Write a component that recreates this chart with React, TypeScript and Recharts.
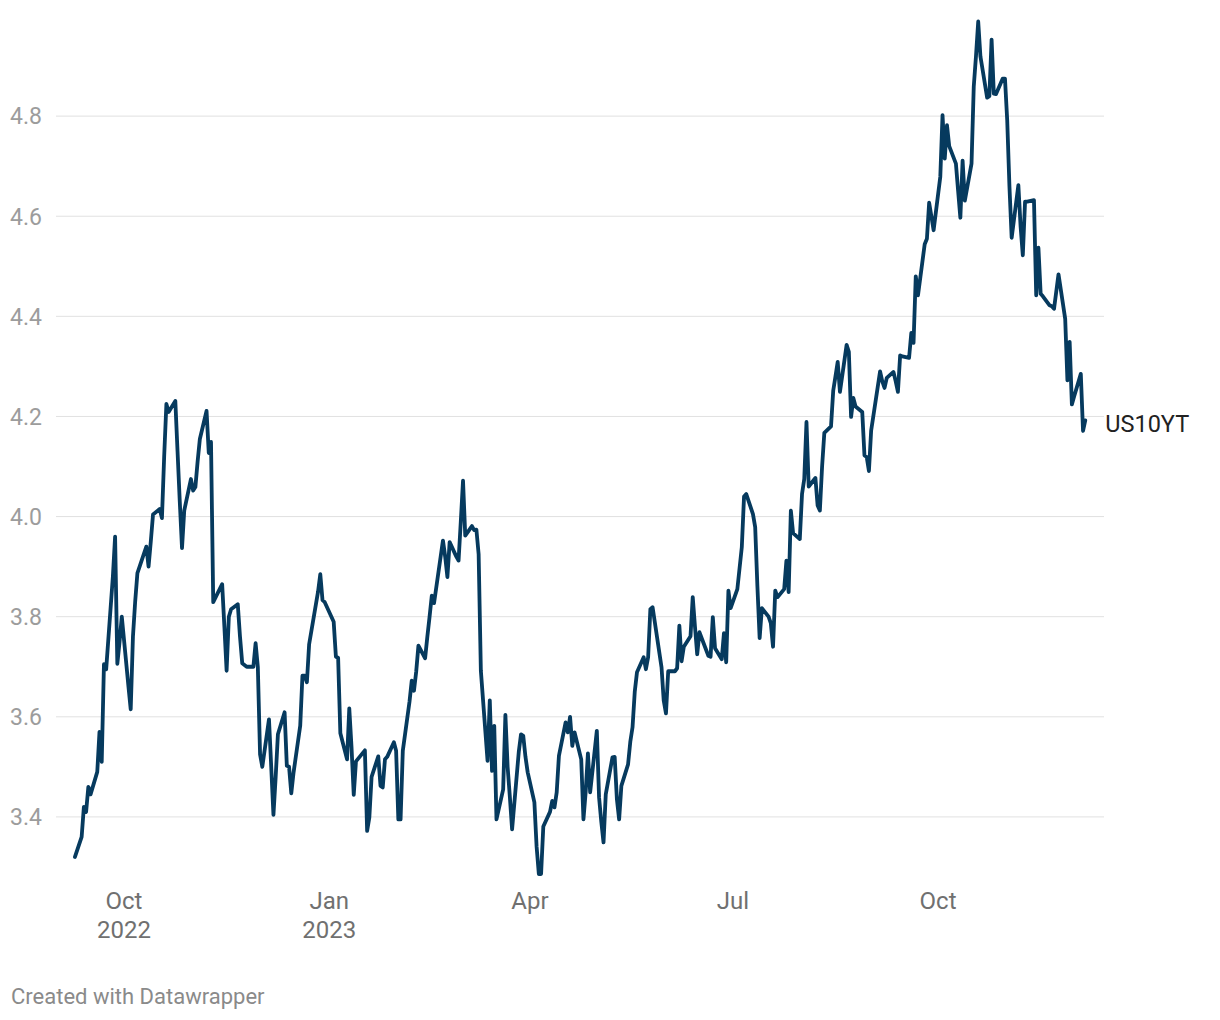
import React from "react";
import { LineChart, Line, XAxis, YAxis, ReferenceLine } from "recharts";

const DATES: string[] = [
  "2022-09-09","2022-09-12","2022-09-13","2022-09-14","2022-09-15","2022-09-16","2022-09-19","2022-09-20","2022-09-21","2022-09-22","2022-09-23","2022-09-26","2022-09-27","2022-09-28","2022-09-29","2022-09-30",
  "2022-10-03","2022-10-04","2022-10-05","2022-10-06","2022-10-07","2022-10-11","2022-10-12","2022-10-13","2022-10-14","2022-10-17","2022-10-18","2022-10-19","2022-10-20","2022-10-21","2022-10-24","2022-10-25","2022-10-26","2022-10-27","2022-10-28","2022-10-31",
  "2022-11-01","2022-11-02","2022-11-03","2022-11-04","2022-11-07","2022-11-08","2022-11-09","2022-11-10","2022-11-14","2022-11-15","2022-11-16","2022-11-17","2022-11-18","2022-11-21","2022-11-22","2022-11-23","2022-11-25","2022-11-28","2022-11-29","2022-11-30",
  "2022-12-01","2022-12-02","2022-12-05","2022-12-06","2022-12-07","2022-12-08","2022-12-09","2022-12-12","2022-12-13","2022-12-14","2022-12-15","2022-12-16","2022-12-19","2022-12-20","2022-12-21","2022-12-22","2022-12-23","2022-12-27","2022-12-28","2022-12-29","2022-12-30",
  "2023-01-03","2023-01-04","2023-01-05","2023-01-06","2023-01-09","2023-01-10","2023-01-11","2023-01-12","2023-01-13","2023-01-17","2023-01-18","2023-01-19","2023-01-20","2023-01-23","2023-01-24","2023-01-25","2023-01-26","2023-01-27","2023-01-30","2023-01-31",
  "2023-02-01","2023-02-02","2023-02-03","2023-02-06","2023-02-07","2023-02-08","2023-02-09","2023-02-10","2023-02-13","2023-02-14","2023-02-15","2023-02-16","2023-02-17","2023-02-21","2023-02-22","2023-02-23","2023-02-24","2023-02-27","2023-02-28",
  "2023-03-01","2023-03-02","2023-03-03","2023-03-06","2023-03-07","2023-03-08","2023-03-09","2023-03-10","2023-03-13","2023-03-14","2023-03-15","2023-03-16","2023-03-17","2023-03-20","2023-03-21","2023-03-22","2023-03-23","2023-03-24","2023-03-27","2023-03-28","2023-03-29","2023-03-30","2023-03-31",
  "2023-04-03","2023-04-04","2023-04-05","2023-04-06","2023-04-07","2023-04-10","2023-04-11","2023-04-12","2023-04-13","2023-04-14","2023-04-17","2023-04-18","2023-04-19","2023-04-20","2023-04-21","2023-04-24","2023-04-25","2023-04-26","2023-04-27","2023-04-28",
  "2023-05-01","2023-05-02","2023-05-03","2023-05-04","2023-05-05","2023-05-08","2023-05-09","2023-05-10","2023-05-11","2023-05-12","2023-05-15","2023-05-16","2023-05-17","2023-05-18","2023-05-19","2023-05-22","2023-05-23","2023-05-24","2023-05-25","2023-05-26","2023-05-30","2023-05-31",
  "2023-06-01","2023-06-02","2023-06-05","2023-06-06","2023-06-07","2023-06-08","2023-06-09","2023-06-12","2023-06-13","2023-06-14","2023-06-15","2023-06-16","2023-06-20","2023-06-21","2023-06-22","2023-06-23","2023-06-26","2023-06-27","2023-06-28","2023-06-29","2023-06-30",
  "2023-07-03","2023-07-05","2023-07-06","2023-07-07","2023-07-10","2023-07-11","2023-07-12","2023-07-13","2023-07-14","2023-07-17","2023-07-18","2023-07-19","2023-07-20","2023-07-21","2023-07-24","2023-07-25","2023-07-26","2023-07-27","2023-07-28","2023-07-31",
  "2023-08-01","2023-08-02","2023-08-03","2023-08-04","2023-08-07","2023-08-08","2023-08-09","2023-08-10","2023-08-11","2023-08-14","2023-08-15","2023-08-16","2023-08-17","2023-08-18","2023-08-21","2023-08-22","2023-08-23","2023-08-24","2023-08-25","2023-08-28","2023-08-29","2023-08-30","2023-08-31",
  "2023-09-01","2023-09-05","2023-09-06","2023-09-07","2023-09-08","2023-09-11","2023-09-12","2023-09-13","2023-09-14","2023-09-15","2023-09-18","2023-09-19","2023-09-20","2023-09-21","2023-09-22","2023-09-25","2023-09-26","2023-09-27","2023-09-28","2023-09-29",
  "2023-10-02","2023-10-03","2023-10-04","2023-10-05","2023-10-06","2023-10-09","2023-10-10","2023-10-11","2023-10-12","2023-10-13","2023-10-16","2023-10-17","2023-10-18","2023-10-19","2023-10-20","2023-10-23","2023-10-24","2023-10-25","2023-10-26","2023-10-27","2023-10-30","2023-10-31",
  "2023-11-01","2023-11-02","2023-11-03","2023-11-06","2023-11-07","2023-11-08","2023-11-09","2023-11-10","2023-11-13","2023-11-14","2023-11-15","2023-11-16","2023-11-17","2023-11-20","2023-11-21","2023-11-22","2023-11-24","2023-11-27","2023-11-28","2023-11-29","2023-11-30",
  "2023-12-01","2023-12-04","2023-12-05","2023-12-06",
];

const YIELDS: number[] = [
  3.32,3.36,3.42,3.41,3.46,3.445,3.49,3.57,3.51,3.705,3.695,3.88,3.96,3.706,3.75,3.8,
  3.66,3.615,3.76,3.83,3.887,3.94,3.9,3.95,4.004,4.015,3.997,4.12,4.225,4.209,4.231,4.13,4.03,3.937,4.012,4.075,
  4.052,4.059,4.11,4.155,4.211,4.127,4.149,3.829,3.865,3.78,3.692,3.8,3.815,3.825,3.76,3.707,3.7,3.7,3.747,3.699,
  3.525,3.5,3.595,3.5,3.404,3.48,3.565,3.609,3.502,3.5,3.447,3.488,3.582,3.682,3.682,3.669,3.745,3.85,3.885,3.833,3.829,
  3.79,3.72,3.718,3.567,3.515,3.617,3.54,3.444,3.511,3.533,3.372,3.399,3.48,3.521,3.462,3.459,3.515,3.52,3.549,3.532,
  3.395,3.395,3.532,3.63,3.672,3.652,3.69,3.742,3.717,3.76,3.8,3.842,3.827,3.952,3.92,3.879,3.949,3.92,3.912,
  3.99,4.072,3.962,3.981,3.973,3.974,3.925,3.692,3.512,3.633,3.492,3.582,3.395,3.455,3.604,3.5,3.44,3.375,3.53,3.565,3.562,3.52,3.489,
  3.429,3.34,3.286,3.286,3.381,3.41,3.432,3.419,3.449,3.522,3.589,3.569,3.6,3.542,3.569,3.515,3.395,3.45,3.527,3.449,
  3.572,3.439,3.39,3.349,3.445,3.519,3.52,3.435,3.395,3.462,3.505,3.55,3.579,3.65,3.689,3.719,3.695,3.719,3.815,3.819,3.699,3.632,
  3.607,3.691,3.691,3.697,3.782,3.711,3.74,3.761,3.839,3.78,3.725,3.769,3.722,3.72,3.799,3.737,3.715,3.767,3.709,3.852,3.817,
  3.855,3.939,4.04,4.045,4.005,3.979,3.86,3.757,3.817,3.8,3.787,3.74,3.852,3.839,3.855,3.912,3.849,4.012,3.967,3.955,
  4.045,4.075,4.189,4.06,4.077,4.022,4.012,4.1,4.167,4.18,4.252,4.28,4.309,4.249,4.343,4.329,4.199,4.237,4.22,4.209,4.122,4.119,4.091,
  4.172,4.29,4.27,4.257,4.277,4.289,4.27,4.249,4.322,4.32,4.317,4.367,4.347,4.48,4.442,4.544,4.555,4.627,4.6,4.572,
  4.679,4.802,4.715,4.782,4.74,4.705,4.65,4.597,4.711,4.631,4.705,4.859,4.92,4.989,4.919,4.837,4.84,4.953,4.845,4.844,4.875,4.875,
  4.792,4.66,4.557,4.662,4.58,4.522,4.629,4.629,4.632,4.442,4.537,4.445,4.44,4.422,4.42,4.415,4.484,4.395,4.272,4.349,4.224,
  4.24,4.285,4.171,4.192,
];

const SERIES_NAME = "US10YT";
const Y_TICKS: number[] = [3.4, 3.6, 3.8, 4.0, 4.2, 4.4, 4.6, 4.8];
const X_TICK_DATES: string[] = ["2022-10-01", "2023-01-01", "2023-04-01", "2023-07-01", "2023-10-01"];
const X_TICK_MONTHS: string[] = ["Oct", "Jan", "Apr", "Jul", "Oct"];
const X_TICK_YEARS: string[] = ["2022", "2023", "", "", ""];

const DAY = 86400000;
const toTs = (s: string) => {
  const [y, m, d] = s.split("-").map(Number);
  return Date.UTC(y, m - 1, d);
};

const data = DATES.map((d, i) => ({ t: toTs(d), v: YIELDS[i] }));
const xTicks = X_TICK_DATES.map(toTs);
const REF = toTs("2022-10-01");
const X_DOMAIN: [number, number] = [REF - 30.5 * DAY, REF + 439.4 * DAY];
const LAST = data.length - 1;

const FONT = "Roboto, 'Noto Sans', sans-serif";

const YTick = (props: any) => {
  const { y, payload } = props;
  return (
    <text x={2} y={y} dy="0.36em" textAnchor="start" fill="#9c9c9c" fontSize={23} fontFamily={FONT}>
      {Number(payload.value).toFixed(1)}
    </text>
  );
};

const XTick = (props: any) => {
  const { x, payload } = props;
  const i = xTicks.indexOf(payload.value);
  return (
    <g>
      <text x={x} y={892} dy="0.36em" textAnchor="middle" fill="#707070" fontSize={24} fontFamily={FONT}>
        {X_TICK_MONTHS[i]}
      </text>
      {X_TICK_YEARS[i] ? (
        <text x={x} y={921} dy="0.36em" textAnchor="middle" fill="#707070" fontSize={24} fontFamily={FONT}>
          {X_TICK_YEARS[i]}
        </text>
      ) : null}
    </g>
  );
};

const EndLabel = (props: any) => {
  const { cx, cy, index } = props;
  if (index !== LAST) return <g key={`d${index}`} />;
  return (
    <text key="endlabel" x={cx + 20} y={cy + 3} dy="0.36em" textAnchor="start" fill="#222" fontSize={23.5} fontFamily={FONT}>
      {SERIES_NAME}
    </text>
  );
};

export default function App() {
  return (
    <div style={{ position: "relative", width: 1204, height: 1004, background: "#fff" }}>
      <LineChart width={1204} height={960} data={data} margin={{ top: 8, right: 108, left: 0, bottom: 0 }}>
        <XAxis
          dataKey="t"
          type="number"
          scale="linear"
          domain={X_DOMAIN}
          ticks={xTicks}
          axisLine={false}
          tickLine={false}
          height={76}
          tick={<XTick />}
          interval={0}
        />
        <YAxis
          type="number"
          domain={[3.25, 5.0]}
          ticks={Y_TICKS}
          axisLine={false}
          tickLine={false}
          width={48}
          tick={<YTick />}
          interval={0}
        />
        {Y_TICKS.map((v) => (
          <ReferenceLine key={v} y={v} stroke="#e1e1e1" strokeWidth={1} ifOverflow="visible" />
        ))}
        <Line
          type="linear"
          dataKey="v"
          stroke="#063a5e"
          strokeWidth={3.8}
          strokeLinejoin="round"
          strokeLinecap="round"
          dot={EndLabel}
          activeDot={false}
          isAnimationActive={false}
        />
      </LineChart>
      <div
        style={{
          position: "absolute",
          left: 3,
          top: 978,
          fontFamily: FONT,
          fontSize: 22,
          lineHeight: "22px",
          color: "#8a8a8a",
          whiteSpace: "nowrap",
        }}
      >
        Created with Datawrapper
      </div>
    </div>
  );
}
